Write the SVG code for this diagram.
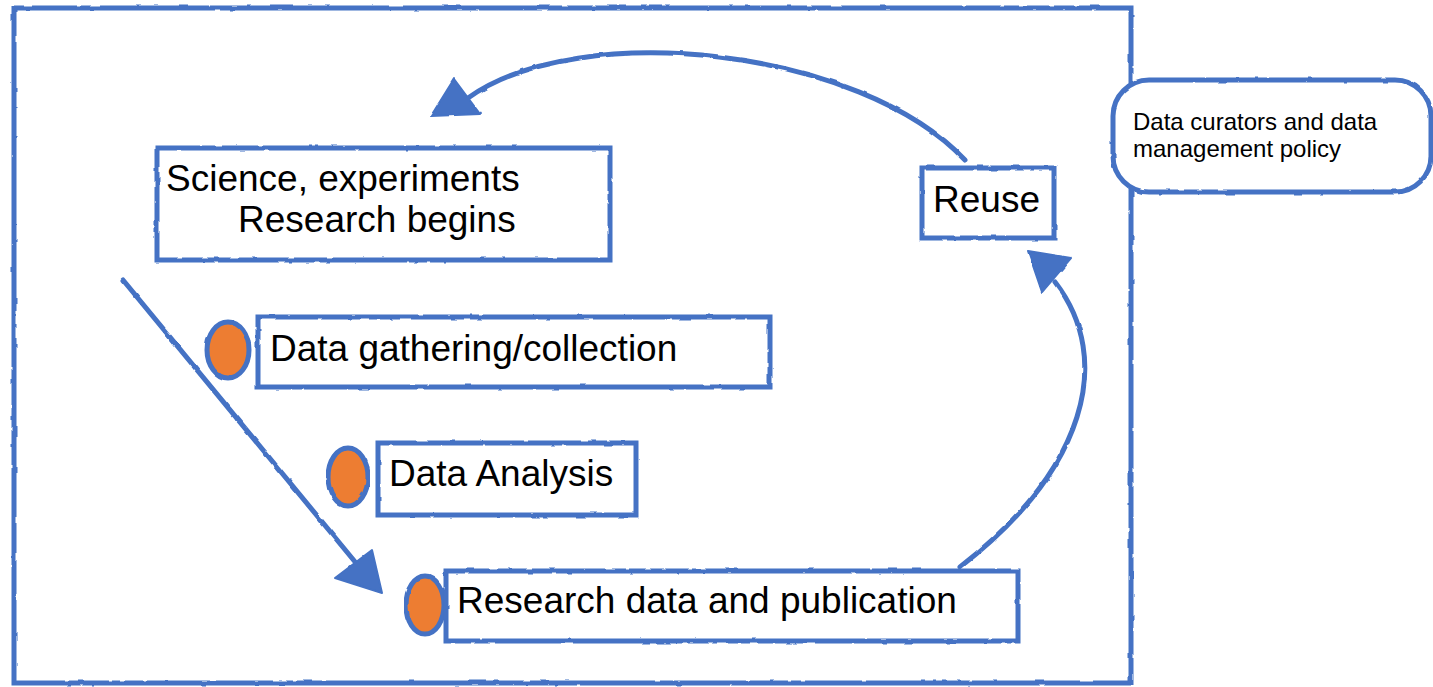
<svg xmlns="http://www.w3.org/2000/svg" width="1433" height="687" viewBox="0 0 1433 687">
  <style>
    .frame { fill: none; stroke: #4472C4; stroke-width: 5; }
    .box { fill: #ffffff; stroke: #4472C4; stroke-width: 5; }
    .conn { fill: none; stroke: #4472C4; stroke-width: 5; stroke-linecap: round; }
    .head { fill: #4472C4; stroke: #4472C4; stroke-width: 2; stroke-linejoin: round; }
    .dot { fill: #ED7D31; stroke: #4472C4; stroke-width: 5; }
    .lbl { font-family: "Liberation Sans", Arial, sans-serif; font-size: 37px; fill: #000000; }
    .small { font-family: "Liberation Sans", Arial, sans-serif; font-size: 24px; fill: #000000; }
  </style>
  <defs>
    <filter id="rough" x="-5%" y="-5%" width="110%" height="110%">
      <feTurbulence type="fractalNoise" baseFrequency="0.08" numOctaves="2" seed="3" result="n"/>
      <feDisplacementMap in="SourceGraphic" in2="n" scale="2.5" xChannelSelector="R" yChannelSelector="G"/>
    </filter>
  </defs>
  <rect width="1433" height="687" fill="#ffffff"/>

  <g id="frame" filter="url(#rough)">
    <rect class="frame" x="14" y="8" width="1117" height="675"/>
  </g>

  <g id="connectors" filter="url(#rough)">
    <path class="conn" d="M965,160 C860,48 580,18 468,98"/>
    <polygon class="head" points="431,116 454,79 480,114"/>
    <path class="conn" d="M123,280 L356,563"/>
    <polygon class="head" points="335,578 372,550 382,593"/>
    <path class="conn" d="M960,567 C1085,470 1115,360 1055,282"/>
    <polygon class="head" points="1028,251 1071,258 1042,292"/>
  </g>

  <g id="node-curators">
    <rect class="box" x="1113" y="80" width="318" height="112" rx="36" filter="url(#rough)"/>
    <text class="small" x="1133" y="130">Data curators and data</text>
    <text class="small" x="1133" y="157">management policy</text>
  </g>

  <g id="node-science">
    <rect class="box" x="157" y="148" width="453" height="112" filter="url(#rough)"/>
    <text class="lbl" x="166" y="191">Science, experiments</text>
    <text class="lbl" x="238" y="232">Research begins</text>
  </g>

  <g id="node-reuse">
    <rect class="box" x="922" y="168" width="132" height="70" filter="url(#rough)"/>
    <text class="lbl" x="933" y="212">Reuse</text>
  </g>

  <g id="node-gathering">
    <ellipse class="dot" cx="228" cy="350" rx="21" ry="28" filter="url(#rough)"/>
    <rect class="box" x="258" y="317" width="512" height="70" filter="url(#rough)"/>
    <text class="lbl" x="270" y="361">Data gathering/collection</text>
  </g>

  <g id="node-analysis">
    <ellipse class="dot" cx="348" cy="477" rx="20" ry="29" filter="url(#rough)"/>
    <rect class="box" x="378" y="443" width="258" height="72" filter="url(#rough)"/>
    <text class="lbl" x="389" y="486">Data Analysis</text>
  </g>

  <g id="node-research">
    <ellipse class="dot" cx="425" cy="605" rx="19" ry="29" filter="url(#rough)"/>
    <rect class="box" x="446" y="571" width="572" height="70" filter="url(#rough)"/>
    <text class="lbl" x="457" y="613">Research data and publication</text>
  </g>
</svg>
